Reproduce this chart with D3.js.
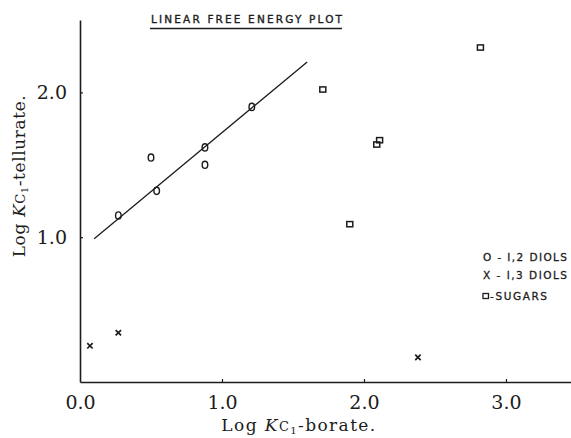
<!DOCTYPE html>
<html>
<head>
<meta charset="utf-8">
<script src="https://cdn.jsdelivr.net/npm/d3@7/dist/d3.min.js"></script>
<style>
  html, body { margin: 0; padding: 0; background: #fff; }
  svg { display: block; }
</style>
</head>
<body>
<svg id="chart" width="571" height="438"></svg>
<script>
// Log Kc1 (borate) vs Log Kc1 (tellurate)
const diols12 = [
  { x: 0.27, y: 1.15 },
  { x: 0.50, y: 1.55 },
  { x: 0.54, y: 1.32 },
  { x: 0.88, y: 1.62 },
  { x: 0.88, y: 1.50 },
  { x: 1.21, y: 1.90 }
];
const diols13 = [
  { x: 0.07, y: 0.25 },
  { x: 0.27, y: 0.34 },
  { x: 2.38, y: 0.17 }
];
const sugars = [
  { x: 1.71, y: 2.02 },
  { x: 2.82, y: 2.31 },
  { x: 2.09, y: 1.64 },
  { x: 2.11, y: 1.67 },
  { x: 1.90, y: 1.09 }
];
// correlation line through the 1,2-diols
const fitLine = [
  { x: 0.10, y: 0.99 },
  { x: 1.60, y: 2.21 }
];
const xTicks = [0, 1, 2, 3];
const yTicks = [1, 2];
const legendItems = ["O - I,2  DIOLS", "X - I,3  DIOLS", "-SUGARS"];

const ink = "#1c1c1c";
const svg = d3.select("#chart");

const x = d3.scaleLinear().domain([0, 3.458]).range([80, 571]);
const y = d3.scaleLinear().domain([0, 2.5]).range([382, 20]);

// axes
const xAxis = d3.axisBottom(x).tickValues(xTicks).tickSize(-3).tickSizeOuter(0)
  .tickFormat(d3.format(".1f")).tickPadding(10);
const gx = svg.append("g").attr("transform", `translate(0,${y(0)})`).call(xAxis);
gx.select(".domain").attr("stroke", ink).attr("stroke-width", 1.6);
gx.selectAll(".tick line").attr("stroke", ink).attr("stroke-width", 1.2)
  .attr("display", d => d === 0 ? "none" : null);
gx.selectAll(".tick text")
  .attr("font-family", "'DejaVu Serif', serif").attr("font-size", 19)
  .attr("fill", ink).attr("dy", "0.9em");

const yAxis = d3.axisLeft(y).tickValues(yTicks).tickSize(-3).tickSizeOuter(0)
  .tickFormat(d3.format(".1f")).tickPadding(13);
const gy = svg.append("g").attr("transform", `translate(${x(0)},0)`).call(yAxis);
gy.select(".domain").attr("stroke", ink).attr("stroke-width", 1.6);
gy.selectAll(".tick line").attr("stroke", ink).attr("stroke-width", 1.2);
gy.selectAll(".tick text")
  .attr("font-family", "'DejaVu Serif', serif").attr("font-size", 19)
  .attr("fill", ink);

// axis titles
function axisTitle(g, tail, spacing) {
  g.attr("font-family", "'DejaVu Serif', serif").attr("font-size", 17)
    .attr("letter-spacing", spacing).attr("fill", ink).attr("text-anchor", "middle");
  g.append("tspan").text("Log ");
  g.append("tspan").attr("font-style", "italic").text("K");
  g.append("tspan").attr("font-size", 13).text("C");
  g.append("tspan").attr("font-size", 10).attr("dy", 3).text("1");
  g.append("tspan").attr("dy", -3).text(tail);
}
axisTitle(svg.append("text").attr("x", 299).attr("y", 431), "-borate.", 1.4);
axisTitle(svg.append("text").attr("transform", "translate(25,176) rotate(-90)"), "-tellurate.", 0.6);

// chart title
svg.append("text")
  .attr("x", 151).attr("y", 23)
  .attr("font-family", "'DejaVu Sans', sans-serif").attr("font-size", 10.5)
  .attr("textLength", 191).attr("lengthAdjust", "spacing")
  .attr("stroke", ink).attr("stroke-width", 0.35)
  .attr("fill", ink).text("LINEAR  FREE  ENERGY  PLOT");
svg.append("line")
  .attr("x1", 150).attr("x2", 342).attr("y1", 28.5).attr("y2", 28.5)
  .attr("stroke", ink).attr("stroke-width", 1.6);

// regression line
svg.append("path")
  .datum(fitLine)
  .attr("d", d3.line().x(d => x(d.x)).y(d => y(d.y)))
  .attr("fill", "none").attr("stroke", ink).attr("stroke-width", 1.3);

// 1,2-diols: open O
svg.append("g").selectAll("ellipse").data(diols12).join("ellipse")
  .attr("cx", d => x(d.x)).attr("cy", d => y(d.y))
  .attr("rx", 2.8).attr("ry", 3.6)
  .attr("fill", "none").attr("stroke", ink).attr("stroke-width", 1.4);

// 1,3-diols: x
svg.append("g").selectAll("path").data(diols13).join("path")
  .attr("d", d => {
    const cx = x(d.x), cy = y(d.y), s = 2.7;
    return `M${cx - s},${cy - s}L${cx + s},${cy + s}M${cx + s},${cy - s}L${cx - s},${cy + s}`;
  })
  .attr("fill", "none").attr("stroke", ink).attr("stroke-width", 1.7);

// sugars: open squares
svg.append("g").selectAll("rect").data(sugars).join("rect")
  .attr("x", d => x(d.x) - 3).attr("y", d => y(d.y) - 2.6)
  .attr("width", 6).attr("height", 5.2)
  .attr("fill", "none").attr("stroke", ink).attr("stroke-width", 1.5);

// legend
const legY = [257, 275, 296];
const leg = svg.append("g")
  .attr("font-family", "'DejaVu Sans', sans-serif").attr("font-size", 10.5)
  .attr("stroke", ink).attr("stroke-width", 0.3)
  .attr("fill", ink);
legendItems.forEach((t, i) => {
  const tx = leg.append("text").attr("y", legY[i]).attr("dy", "0.36em").text(t);
  if (i < 2) {
    tx.attr("x", 483).attr("textLength", 84).attr("lengthAdjust", "spacing");
  } else {
    tx.attr("x", 490).attr("textLength", 57).attr("lengthAdjust", "spacing");
  }
});
svg.append("rect").attr("x", 483).attr("y", legY[2] - 2.5)
  .attr("width", 5.5).attr("height", 5)
  .attr("fill", "none").attr("stroke", ink).attr("stroke-width", 1.3);
</script>
</body>
</html>
